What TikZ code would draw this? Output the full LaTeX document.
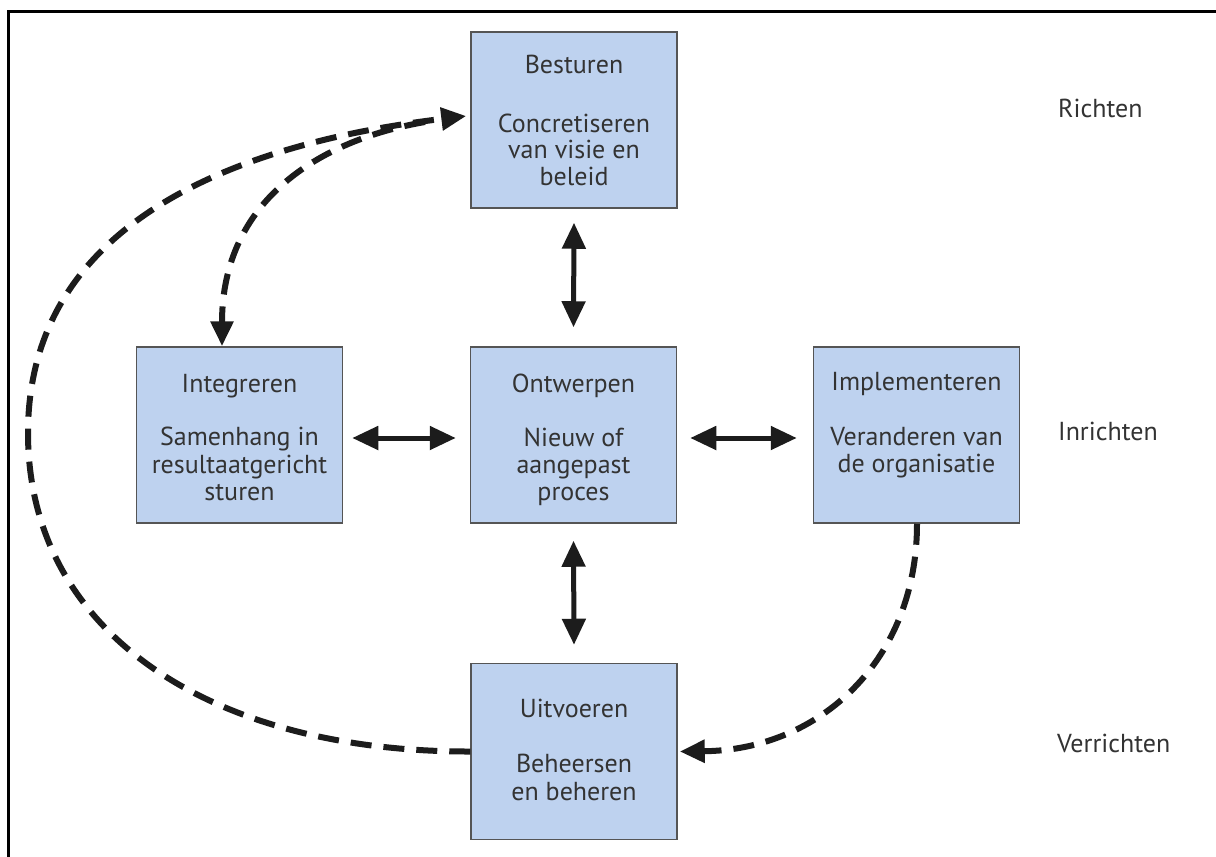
\documentclass[tikz,border=0pt]{standalone}
\usepackage{fontspec}
\setmainfont{PT Sans}
\usetikzlibrary{arrows.meta}
\definecolor{boxfill}{HTML}{BED2EF}
\definecolor{boxline}{HTML}{555555}
\definecolor{ink}{HTML}{333333}
\definecolor{arrowink}{HTML}{1C1C1C}
\tikzset{
  stage/.style={draw=boxline, line width=1.5pt, fill=boxfill, minimum width=206pt,
    minimum height=176pt, inner sep=0pt},
  txt/.style={text=ink, font=\fontsize{26}{30}\selectfont, anchor=base, inner sep=0pt},
  level/.style={txt, anchor=base west},
  twoway/.style={draw=arrowink, line width=5pt,
    {Triangle[length=26pt,width=23pt]}-{Triangle[length=26pt,width=23pt]}},
  loop/.style={draw=arrowink, line width=6pt, dash pattern=on 21pt off 12pt,
    -{Triangle[length=25pt,width=22pt]}}
}
\begin{document}
\begin{tikzpicture}[x=1pt,y=-1pt]
\useasboundingbox (0,0) rectangle (1216,857);
\clip (0,0) rectangle (1216,857);
\fill[white] (0,0) rectangle (1216,857);
% outer frame, running past the right and lower edges
\draw[line width=3pt] (1240,11) -- (8,11) -- (8,880);

% the five stages
\node[stage] (best) at (574,120) {};
\node[stage] (integ) at (239.5,435) {};
\node[stage] (ontw) at (573.5,435) {};
\node[stage] (impl) at (916.5,435) {};
\node[stage] (uitv) at (574,751.5) {};

% stage texts
\node[txt] (bestA) at (574,73) {Besturen};
\node[txt] (bestB) at (574,132) {Concretiseren};
\node[txt] (bestC) at (574,158) {van visie en};
\node[txt] (bestD) at (574,185) {beleid};

\node[txt] (integA) at (239.5,392) {Integreren};
\node[txt] (integB) at (239.5,445) {Samenhang in};
\node[txt] (integC) at (239.5,473) {resultaatgericht};
\node[txt] (integD) at (239.5,500) {sturen};

\node[txt] (ontwA) at (573.5,392) {Ontwerpen};
\node[txt] (ontwB) at (573.5,446) {Nieuw of};
\node[txt] (ontwC) at (573.5,473) {aangepast};
\node[txt] (ontwD) at (573.5,500) {proces};

\node[txt] (implA) at (916.5,390) {Implementeren};
\node[txt] (implB) at (916.5,445) {Veranderen van};
\node[txt] (implC) at (916.5,472) {de organisatie};

\node[txt] (uitvA) at (574,717) {Uitvoeren};
\node[txt] (uitvB) at (574,772) {Beheersen};
\node[txt] (uitvC) at (574,800) {en beheren};

% levels on the right
\node[level] (richten) at (1058,117) {Richten};
\node[level] (inrichten) at (1058,440) {Inrichten};
\node[level] (verrichten) at (1057,752) {Verrichten};

% two-way links around Ontwerpen
\draw[twoway] ([yshift=-14pt]best.south) -- ([yshift=19pt]ontw.north);
\draw[twoway] ([yshift=-17pt]ontw.south) -- ([yshift=18pt]uitv.north);
\draw[twoway] ([xshift=9pt,yshift=-3pt]integ.east) -- ([xshift=-14pt,yshift=-3pt]ontw.west);
\draw[twoway] ([xshift=13pt,yshift=-3pt]ontw.east) -- ([xshift=-16pt,yshift=-3pt]impl.east -| impl.west);

% dashed feedback loops
\coordinate (fork) at (425,122);
\draw[loop] (uitv.west) .. controls (211,752) and (28,633) .. (28,433)
  .. controls (28,233) and (216,146) .. ([xshift=-4pt,yshift=4pt]best.west);
\draw[loop] (fork) .. controls (320,140) and (222,200) .. (integ.north -| 222,0);
\draw[loop] (impl.south -| 917,0) .. controls (917,660) and (820,750) .. ([xshift=2pt]uitv.east);
\end{tikzpicture}
\end{document}
